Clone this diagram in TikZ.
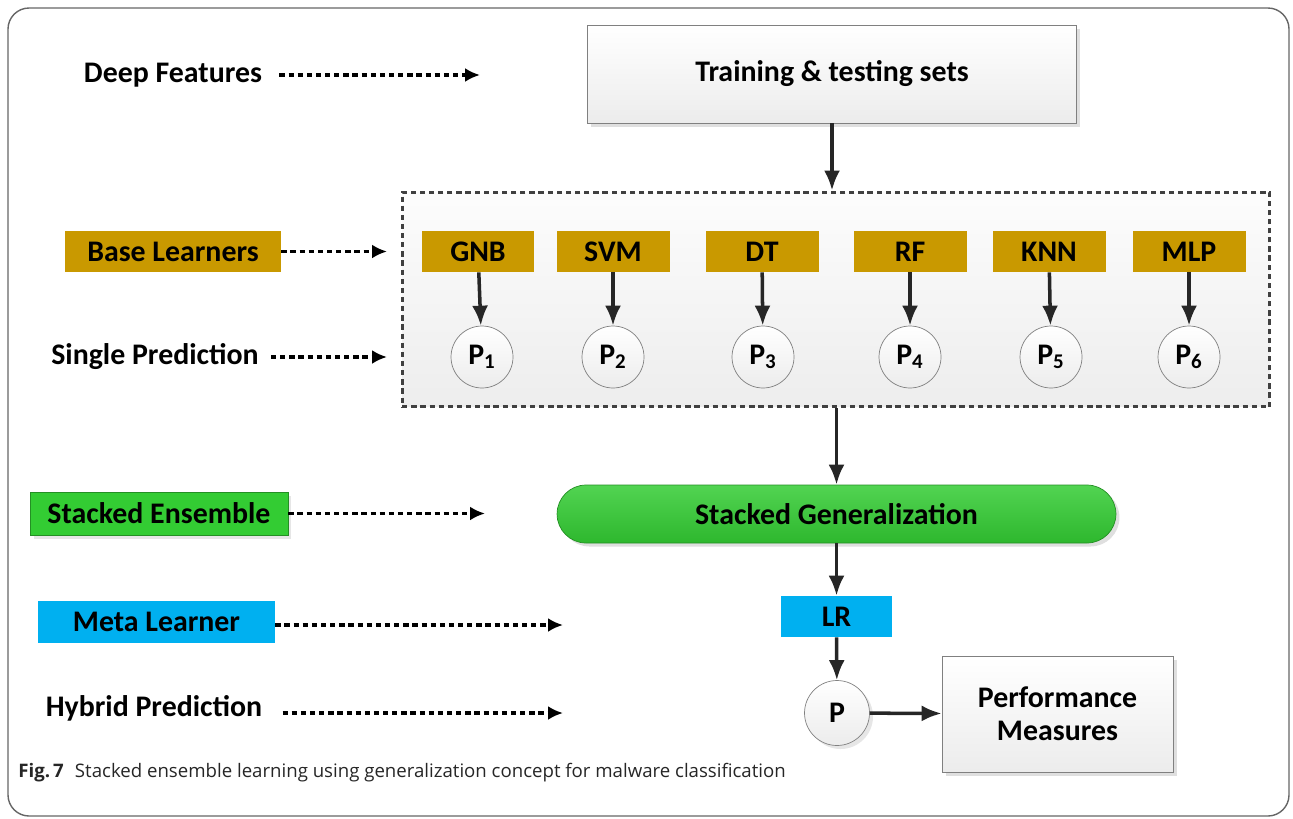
\documentclass[tikz,border=0pt]{standalone}
\usepackage{fontspec}
\setmainfont{Carlito}
\newfontfamily\capfont{Open Sans}
\usetikzlibrary{arrows.meta,shadows}

\definecolor{gold}{RGB}{201,153,0}
\definecolor{leafgreen}{RGB}{51,204,51}
\definecolor{skyblue}{RGB}{0,176,240}

\tikzstyle{line} = [draw, -{Latex[length=4mm,width=3.2mm]}, line width=2pt, black!85]
\tikzstyle{dotline} = [draw, -{Latex[length=3mm,width=2.8mm]}, line width=1.8pt, dash pattern=on 3pt off 2.2pt]
\tikzstyle{tag} = [font=\bfseries\fontsize{17}{20}\selectfont, inner sep=0pt]
\tikzstyle{learner} = [tag, fill=gold, minimum width=2.26cm, minimum height=0.82cm]
\tikzstyle{pred} = [tag, circle, draw=gray, top color=white, bottom color=gray!15, minimum size=1.24cm]
\tikzstyle{greybox} = [tag, draw=gray, top color=white, bottom color=gray!15,
  drop shadow={opacity=0.25, shadow xshift=2pt, shadow yshift=-2pt}]

\begin{document}
\begin{tikzpicture}[x=0.02cm, y=-0.02cm]
    \useasboundingbox (0,0) rectangle (1293,818);
    \draw[gray!80!black, line width=0.8pt, rounded corners=12pt] (8,8) rectangle (1289,816);

    % left hand legend
    \node[tag] (deep) at (173,75) {Deep Features};
    \coordinate (deepend) at (480,75);
    \node[tag, fill=gold, minimum width=4.32cm, minimum height=0.82cm] (base) at (173,251.5) {Base Learners};
    \coordinate (baseend) at (387,251.5);
    \node[tag] (single) at (155,357) {Single Prediction};
    \coordinate (singleend) at (387,357);
    \node[tag, fill=leafgreen, draw=leafgreen!70!black, minimum width=5.16cm, minimum height=0.86cm,
      drop shadow={opacity=0.2, shadow xshift=2pt, shadow yshift=-2pt}] (stack) at (159,513.5) {Stacked Ensemble};
    \coordinate (stackend) at (485,513.5);
    \node[tag, fill=skyblue, minimum width=4.74cm, minimum height=0.84cm] (meta) at (156.5,622) {Meta Learner};
    \coordinate (metaend) at (563,625);
    \node[tag] (hybrid) at (154,708) {Hybrid Prediction};
    \coordinate (hybridend) at (563,713);

    \draw[dotline, shorten <=0.34cm] (deep) -- (deepend);
    \draw[dotline] (base) -- (baseend);
    \draw[dotline, shorten <=0.24cm] (single) -- (singleend);
    \draw[dotline] (stack) -- (stackend);
    \draw[dotline] (meta.east |- metaend) -- (metaend);
    \draw[dotline, shorten <=0.4cm] (hybrid.east |- hybridend) -- (hybridend);

    % main flow
    \node[greybox, minimum width=9.78cm, minimum height=1.96cm] (train) at (832,74) {Training \& testing sets};
    \node[draw=black!75, line width=1.7pt, dash pattern=on 3pt off 2.2pt, top color=gray!2, bottom color=gray!14,
      minimum width=17.36cm, minimum height=4.3cm] (ens) at (836,299.5) {};

    \foreach \name/\x/\px [count=\i] in {GNB/478/482, SVM/613/613, DT/762/763, RF/910/910, KNN/1049/1051, MLP/1189/1189}{
        \node[learner] (b\i) at (\x,251.5) {\name};
        \node[pred] (p\i) at (\px,357) {P\textsubscript{\i}};
        \draw[line] (b\i) -- (p\i);
    }

    \node[tag, rounded corners=0.58cm, draw=leafgreen!70!black, top color=leafgreen!85!white, bottom color=leafgreen!90!black,
      minimum width=11.18cm, minimum height=1.16cm,
      drop shadow={opacity=0.25, shadow xshift=2pt, shadow yshift=-2pt}] (gen) at (836.5,514) {Stacked Generalization};
    \node[tag, fill=skyblue, minimum width=2.22cm, minimum height=0.82cm] (lr) at (836.5,616.5) {LR};
    \node[pred, minimum size=1.3cm, drop shadow={opacity=0.2, shadow xshift=2pt, shadow yshift=-2pt}] (final) at (837,713) {P};
    \node[greybox, minimum width=4.62cm, minimum height=2.32cm, align=center] (perf) at (1057.5,714) {Performance\\[-1pt]Measures};

    \draw[line] (train) -- (train.south |- ens.north);
    \draw[line] (ens.south -| gen.north) -- (gen);
    \draw[line] (gen) -- (lr);
    \draw[line] (lr) -- (final);
    \draw[line] (final) -- (perf);

    \node[anchor=west, font=\capfont\fontsize{10.6}{13}\selectfont, text=black!85, inner sep=0pt] (caption) at (18,773)
      {\textbf{Fig.\,7}\hspace{0.6em}Stacked ensemble learning using generalization concept for malware classification};
\end{tikzpicture}
\end{document}
